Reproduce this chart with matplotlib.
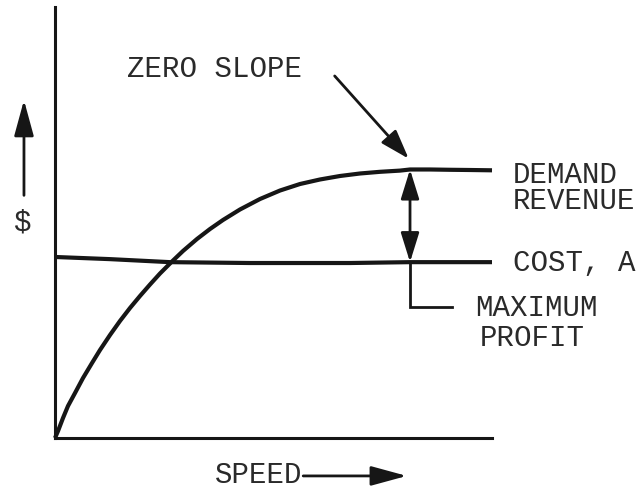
import matplotlib
matplotlib.use("Agg")
import matplotlib.pyplot as plt

# Demand revenue curve (speed vs. dollars)
speed_rev = [0.000, 0.069, 0.183, 0.297, 0.458, 0.641, 0.847, 1.030, 1.259,
             1.487, 1.716, 1.945, 2.174, 2.403, 2.677, 2.929, 3.249, 3.547,
             3.844, 4.233, 4.691, 5.149, 5.606, 6.064, 6.522, 6.979, 7.437,
             7.895, 8.124, 8.581, 9.039, 9.497, 10.000]
revenue = [0.000, 0.162, 0.464, 0.742, 1.044, 1.392, 1.740, 2.042, 2.390,
           2.715, 3.016, 3.295, 3.561, 3.817, 4.095, 4.339, 4.617, 4.849,
           5.058, 5.302, 5.545, 5.742, 5.893, 5.998, 6.079, 6.137, 6.176,
           6.204, 6.230, 6.230, 6.223, 6.218, 6.211]

# Cost curve
speed_cost = [0.0, 1.26, 2.63, 4.46, 6.75, 8.12, 10.0]
cost = [4.20, 4.15, 4.08, 4.06, 4.06, 4.08, 4.08]

# Point of zero slope / maximum profit
opt_speed = 8.124
opt_revenue = 6.230
opt_cost = 4.08

INK = "#161616"
TXT = "#2a2a2a"
FONT = "Liberation Mono"
FS = 21

fig = plt.figure(figsize=(6.44, 4.90), dpi=100)
ax = fig.add_axes([55 / 644, 1 - 438 / 490, 437 / 644, 431 / 490])
ax.set_xlim(0, 10)
ax.set_ylim(0, 10)
for s in ("top", "right"):
    ax.spines[s].set_visible(False)
for s in ("left", "bottom"):
    ax.spines[s].set_linewidth(2.2)
    ax.spines[s].set_color(INK)
ax.set_xticks([])
ax.set_yticks([])

ax.plot(speed_rev, revenue, color=INK, lw=3.0, solid_capstyle="butt",
        solid_joinstyle="round", clip_on=False, zorder=3)
ax.plot(speed_cost, cost, color=INK, lw=3.0, solid_capstyle="butt",
        solid_joinstyle="round", clip_on=False, zorder=3)

# Profit gap: double arrow between revenue and cost
ax.annotate("", xy=(opt_speed, opt_revenue), xytext=(opt_speed, opt_cost),
            arrowprops=dict(arrowstyle="<|-|>,head_length=0.9,head_width=0.28",
                            color=INK, lw=2.0, shrinkA=0, shrinkB=0,
                            mutation_scale=20), annotation_clip=False)

# Bracket pointing to the maximum-profit label
ax.plot([opt_speed, opt_speed, 9.08], [opt_cost, 3.04, 3.04], color=INK,
        lw=2.0, clip_on=False, solid_joinstyle="miter")

# Zero-slope pointer
ax.annotate("", xy=(opt_speed - 0.03, opt_revenue + 0.25), xytext=(6.4, 8.4),
            arrowprops=dict(arrowstyle="-|>,head_length=0.9,head_width=0.3",
                            color=INK, lw=2.0, shrinkA=0, shrinkB=0,
                            mutation_scale=20), annotation_clip=False)

txt = dict(family=FONT, fontsize=FS, color=TXT, va="center", ha="left",
           clip_on=False)
ax.text(1.65, 8.56, "ZERO SLOPE", **txt)
ax.text(10.48, 6.10, "DEMAND", **txt)
ax.text(10.48, 5.50, "REVENUE", **txt)
ax.text(10.48, 4.06, "COST, A", **txt)
ax.text(9.61, 3.02, "MAXIMUM", **txt)
ax.text(9.73, 2.32, "PROFIT", **txt)
ax.text(-0.77, 5.01, "$", **{**txt, "ha": "center"})
ax.text(3.66, -0.86, "SPEED", **txt)

# Axis direction arrows
ax.annotate("", xy=(-0.71, 7.84), xytext=(-0.71, 5.63),
            arrowprops=dict(arrowstyle="-|>,head_length=1.1,head_width=0.3",
                            color=INK, lw=2.0, shrinkA=0, shrinkB=0,
                            mutation_scale=20), annotation_clip=False)
ax.annotate("", xy=(8.05, -0.88), xytext=(5.68, -0.88),
            arrowprops=dict(arrowstyle="-|>,head_length=1.1,head_width=0.3",
                            color=INK, lw=2.0, shrinkA=0, shrinkB=0,
                            mutation_scale=20), annotation_clip=False)

fig.savefig("out.png", dpi=100, facecolor="white")
